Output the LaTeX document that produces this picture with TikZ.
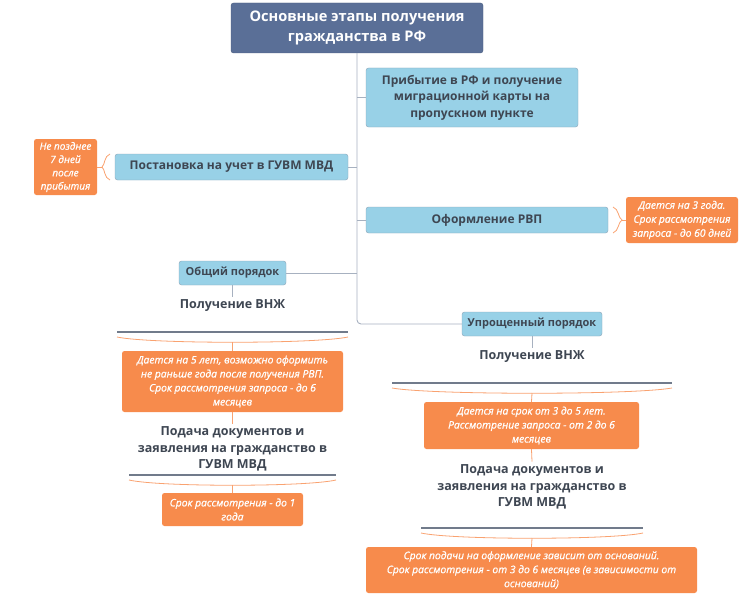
\documentclass[tikz,border=0pt]{standalone}
\usepackage{fontspec}
\setmainfont{Open Sans}
\newfontfamily\notefont{Open Sans}[FakeBold=0.8]
\usetikzlibrary{
    positioning,   % For relative placement of nodes
    calc           % For coordinate calculations
}
\definecolor{titleblue}{HTML}{5A6F97}
\definecolor{stepblue}{HTML}{98D1E7}
\definecolor{stepedge}{HTML}{8CA3B6}
\definecolor{stepink}{HTML}{3E4652}
\definecolor{noteorange}{HTML}{F78B4C}
\definecolor{trunkgrey}{HTML}{A7B1C0}
\definecolor{rulegrey}{HTML}{717B8B}

\begin{document}
\begin{tikzpicture}[
    x=1pt, y=-1pt,
    titlebox/.style={fill=titleblue, draw=titleblue!85!black, rounded corners=2.5pt,
        text=white, align=center, inner sep=0pt,
        font=\bfseries\fontsize{14.6}{20}\selectfont},
    stepbox/.style={fill=stepblue, draw=stepedge, rounded corners=2.5pt,
        text=stepink, align=center, inner sep=0pt,
        font=\bfseries\fontsize{12}{16.5}\selectfont},
    smallstep/.style={stepbox, font=\bfseries\fontsize{11}{14}\selectfont},
    stagetext/.style={text=stepink, align=center, inner sep=3pt,
        font=\bfseries\fontsize{12.5}{16.5}\selectfont},
    notebox/.style={fill=noteorange, rounded corners=2.5pt, text=white,
        align=center, inner sep=0pt,
        font=\notefont\itshape\fontsize{10.3}{14}\selectfont},
    trunk/.style={draw=trunkgrey, line width=0.9pt},
    underrule/.style={draw=rulegrey, line width=1.3pt},
    bracket/.style={draw=noteorange!80, line width=0.8pt}
]
    \useasboundingbox (0,0) rectangle (750,610);

    % --- Title and main steps ---
    \node[titlebox, minimum width=252, minimum height=50] (title) at (357,28)
        {Основные этапы получения\\гражданства в РФ};
    \node[stepbox, minimum width=212, minimum height=59] (arrive) at (472,97.5)
        {Прибытие в РФ и получение\\миграционной карты на\\пропускном пункте};
    \node[stepbox, minimum width=233, minimum height=26] (register) at (231.5,167)
        {Постановка на учет в ГУВМ МВД};
    \node[stepbox, minimum width=242, minimum height=26] (rvp) at (487,220)
        {Оформление РВП};
    \node[smallstep, minimum width=107, minimum height=24] (general) at (232.5,273)
        {Общий порядок};
    \node[smallstep, minimum width=140, minimum height=24] (simple) at (532,324)
        {Упрощенный порядок};

    % --- Side notes ---
    \node[notebox, minimum width=63, minimum height=56,
          font=\notefont\itshape\fontsize{10}{13.3}\selectfont] (note7) at (65.5,167)
        {Не позднее\\7 дней\\после\\прибытия};
    \node[notebox, minimum width=112, minimum height=46] (note3) at (682,220)
        {Дается на 3 года.\\Срок рассмотрения\\запроса - до 60 дней};

    % --- Trunk and branches ---
    \draw[trunk, rounded corners=4pt] (title.south) |- (simple.west);
    \draw[trunk] (title.south |- arrive.west) -- (arrive.west);
    \draw[trunk] (register.east) -- (register.east -| title.south);
    \draw[trunk] (title.south |- rvp.west) -- (rvp.west);
    \draw[trunk] (general.east) -- (general.east -| title.south);

    % --- Side brackets ---
    \coordinate (b7) at (102,167);
    \draw[bracket] (110,154) .. controls (104,156) and (105,165) .. (b7)
                             .. controls (105,169) and (104,178) .. (110,180);
    \draw[bracket] (b7) -- (note7.east);
    \coordinate (b3) at (622,220);
    \draw[bracket] (613,207) .. controls (619,209) and (618,218) .. (b3)
                             .. controls (618,222) and (619,231) .. (613,233);
    \draw[bracket] (b3) -- (note3.west);

    % --- General procedure ---
    \node[stagetext] (vnj1) at (232.5,306) {Получение ВНЖ};
    \draw[trunk] (general.south) -- (vnj1.north);
    \coordinate (r1l) at (117,332);
    \coordinate (r1r) at (348,332);
    \draw[underrule] (r1l) -- (r1r);
    \node[notebox, minimum width=221, minimum height=61] (note5) at (232.5,381.5)
        {Дается на 5 лет, возможно оформить\\не раньше года после получения РВП.\\Срок рассмотрения запроса - до 6\\месяцев};
    \coordinate (c1) at (232.5,342);
    \draw[bracket] (117,337) .. controls (150,344) and (315,344) .. (348,337);
    \draw[bracket] (c1) -- (note5.north);

    \node[stagetext] (apply1) at (232.5,449)
        {Подача документов и\\заявления на гражданство в\\ГУВМ МВД};
    \draw[bracket] (note5.south) -- (apply1.north);
    \coordinate (r2l) at (129,475);
    \coordinate (r2r) at (336,475);
    \draw[underrule] (r2l) -- (r2r);
    \node[notebox, minimum width=141, minimum height=33] (note1) at (232.5,509.5)
        {Срок рассмотрения - до 1\\года};
    \coordinate (c2) at (232.5,485);
    \draw[bracket] (129,480) .. controls (159,487) and (306,487) .. (336,480);
    \draw[bracket] (c2) -- (note1.north);

    % --- Simplified procedure ---
    \node[stagetext] (vnj2) at (532,357) {Получение ВНЖ};
    \draw[trunk] (simple.south) -- (vnj2.north);
    \coordinate (r3l) at (392,383);
    \coordinate (r3r) at (672,383);
    \draw[underrule] (r3l) -- (r3r);
    \node[notebox, minimum width=215, minimum height=47] (note35) at (531.5,425.5)
        {Дается на срок от 3 до 5 лет.\\Рассмотрение запроса - от 2 до 6\\месяцев};
    \coordinate (c3) at (532,393);
    \draw[bracket] (392,388) .. controls (432,395) and (632,395) .. (672,388);
    \draw[bracket] (c3) -- (note35.north);

    \node[stagetext] (apply2) at (532,487)
        {Подача документов и\\заявления на гражданство в\\ГУВМ МВД};
    \draw[bracket] (note35.south) -- (apply2.north);
    \coordinate (r4l) at (421,528);
    \coordinate (r4r) at (643,528);
    \draw[underrule] (r4l) -- (r4r);
    \node[notebox, minimum width=331, minimum height=46] (notebase) at (531.5,570)
        {Срок подачи на оформление зависит от оснований.\\Срок рассмотрения - от 3 до 6 месяцев (в зависимости от\\оснований)};
    \coordinate (c4) at (532,538);
    \draw[bracket] (421,533) .. controls (453,540) and (611,540) .. (643,533);
    \draw[bracket] (c4) -- (notebase.north);
\end{tikzpicture}
\end{document}
